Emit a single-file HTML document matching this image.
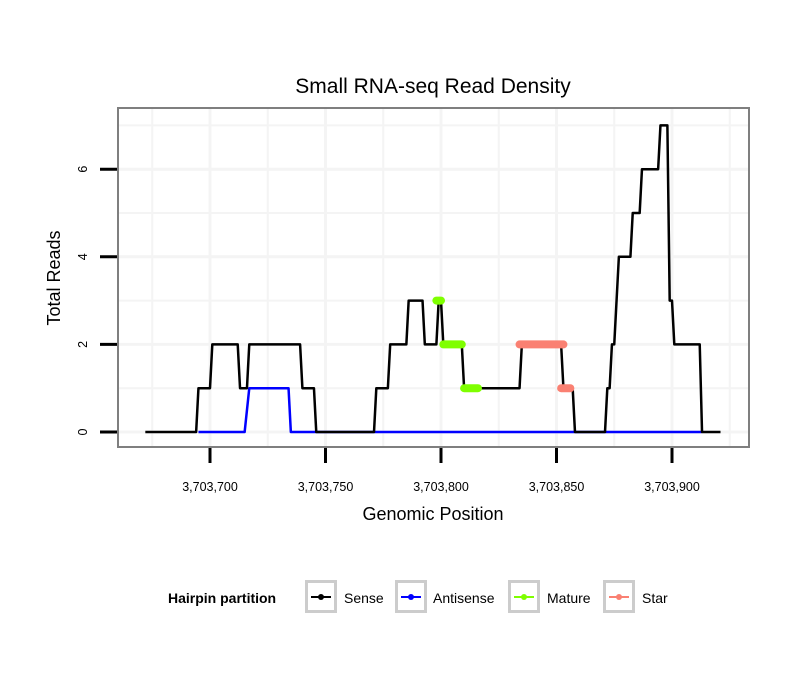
<!DOCTYPE html>
<html><head><meta charset="utf-8"><style>
body{margin:0;background:#fff;font-family:"Liberation Sans",sans-serif}
svg text{font-family:"Liberation Sans",sans-serif}
</style></head><body>
<svg width="810" height="690" viewBox="0 0 810 690">
<g id="grid"></g>
<g id="marks"></g>
<rect x="118" y="108" width="631" height="339" fill="none" stroke="#7f7f7f" stroke-width="2"/>
<g id="axes"></g>
<text x="433" y="93" font-size="21" text-anchor="middle">Small RNA-seq Read Density</text>
<text x="433" y="520" font-size="18" text-anchor="middle">Genomic Position</text>
<text x="0" y="0" font-size="18" text-anchor="middle" transform="translate(60,278) rotate(-90)">Total Reads</text>
<g id="legend">
<text x="168" y="603" font-size="14" font-weight="bold">Hairpin partition</text>
</g>
</svg>
<script>
const xTicks=[3703700,3703750,3703800,3703850,3703900];
const yTicks=[0,2,4,6];
const senseX=[-28,-6,-5,0,1,12,13,16,17,39,40,45,46,71,72,77,78,85,86,92,93,98,99,100,101,109,110,134,135,152,153,157,158,171,172,173,174,175,177,182,183,186,187,194,195,198,199,200,201,212,213,221];
const senseY=[0,0,1,1,2,2,1,1,2,2,1,1,0,0,1,1,2,2,3,3,2,2,3,3,2,2,1,1,2,2,1,1,0,0,1,1,2,2,4,4,5,5,6,6,7,7,3,3,2,2,0,0];
const antiX=[-5,15,17,34,35,213];
const antiY=[0,0,1,1,0,0];
const matureStart=[98,101,110];
const matureEnd=[100,109,116];
const matureVal=[3,2,1];
const starStart=[134,152];
const starEnd=[153,156];
const starVal=[2,1];
const BASE=3703700;
const NS="http://www.w3.org/2000/svg";
function X(v){return 210+(v-BASE)*2.31;}
function XR(d){return X(BASE+d);}
function Y(v){return 432-v*43.8;}
function mk(tag,attrs,parent){const e=document.createElementNS(NS,tag);for(const k in attrs)e.setAttribute(k,attrs[k]);parent.appendChild(e);return e;}
const grid=document.getElementById('grid'),marks=document.getElementById('marks'),axes=document.getElementById('axes'),legend=document.getElementById('legend');
// grid
for(let v=xTicks[0]-50;v<=xTicks[xTicks.length-1]+50;v+=25){const px=X(v);if(px<119||px>748)continue;
 const l=mk('line',{x1:px,x2:px,y1:109,y2:446,stroke:'#f4f4f4','stroke-width':(v%50===0)?3:2},grid);
 
 }
for(let v=0;v<=7;v++){const py=Y(v);
 const l=mk('line',{x1:119,x2:748,y1:py,y2:py,stroke:'#f4f4f4','stroke-width':(v%2===0)?3:2},grid);
 
 }
// axes
xTicks.forEach(v=>{const px=X(v);
 const t=mk('line',{x1:px,x2:px,y1:448,y2:463,stroke:'#000','stroke-width':3},axes);
 
 
 const tx=mk('text',{x:px,y:491,'font-size':12.5,'text-anchor':'middle'},axes);tx.textContent=v.toLocaleString('en-US');
 
 });
yTicks.forEach(v=>{const py=Y(v);
 const t=mk('line',{x1:100,x2:117,y1:py,y2:py,stroke:'#000','stroke-width':3},axes);
 
 
 const tx=mk('text',{x:0,y:0,'font-size':12.5,'text-anchor':'middle',transform:`translate(87,${py}) rotate(-90)`},axes);tx.textContent=v;
 
 });
// series
function poly(xs,ys,color,name){const p=xs.map((x,i)=>XR(x)+','+Y(ys[i])).join(' ');
 const e=mk('polyline',{points:p,fill:'none',stroke:color,'stroke-width':2.5,'stroke-linejoin':'round'},marks);
 
 }
poly(antiX,antiY,'#0000ff','antisense-line');
poly(senseX,senseY,'#000000','sense-line');
function segs(s,e2,v,color,name){s.forEach((a,i)=>{
 const e=mk('line',{x1:XR(a),x2:XR(e2[i]),y1:Y(v[i]),y2:Y(v[i]),stroke:color,'stroke-width':8,'stroke-linecap':'round'},marks);
 
 });}
segs(matureStart,matureEnd,matureVal,'#7fff00','mature-points');
segs(starStart,starEnd,starVal,'#fa8072','star-points');
// legend
const items=[['Sense','#000',305,344],['Antisense','#0000ff',395,433],['Mature','#7fff00',508,547],['Star','#fa8072',603,642]];
items.forEach(([lab,c,bx,tx])=>{
 const g=mk('g',{},legend);
 
 
 mk('rect',{x:bx+1.5,y:581.5,width:29,height:30,fill:'#fff',stroke:'#cccccc','stroke-width':3},g);
 mk('line',{x1:bx+6,x2:bx+26,y1:597,y2:597,stroke:c,'stroke-width':2},g);
 mk('circle',{cx:bx+16,cy:597,r:3,fill:c},g);
 const t=mk('text',{x:tx,y:603,'font-size':14},g);t.textContent=lab;});
</script>
</body></html>
